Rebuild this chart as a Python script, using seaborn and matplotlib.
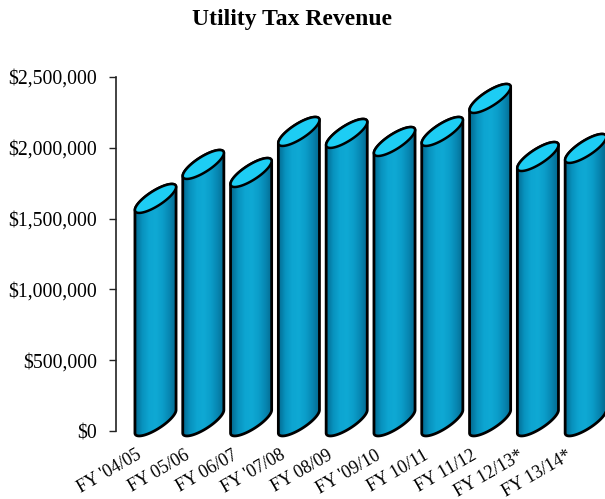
import numpy as np
import pandas as pd
import seaborn as sns
import matplotlib
matplotlib.use("Agg")
import matplotlib.pyplot as plt
from matplotlib.path import Path
from matplotlib.patches import PathPatch
from matplotlib.transforms import ScaledTranslation
from matplotlib.ticker import FuncFormatter
from matplotlib.colors import LinearSegmentedColormap

# ---------------- data ----------------
categories = ["FY '04/05", "FY 05/06", "FY 06/07", "FY '07/08", "FY 08/09",
              "FY '09/10", "FY 10/11", "FY 11/12", "FY 12/13*", "FY 13/14*"]
revenue = [1561000, 1801000, 1744000, 2034000, 2020000,
           1963000, 2034000, 2267000, 1857000, 1914000]
y_ticks = [0, 500000, 1000000, 1500000, 2000000, 2500000]
title = "Utility Tax Revenue"

# ---------------- style ----------------
sns.set_theme(style="white")
plt.rcParams['font.family'] = ['Liberation Serif', 'DejaVu Serif']

W_PX, H_PX, DPI = 605, 499, 100
fig = plt.figure(figsize=(W_PX / DPI, H_PX / DPI), dpi=DPI)
ax_left, ax_right, zero_px, top_px = 116, 605, 431, 77
extra_bottom = 8  # px below zero so cylinder bottoms are not clipped
ax = fig.add_axes([ax_left / W_PX, (H_PX - zero_px - extra_bottom) / H_PX,
                   (ax_right - ax_left) / W_PX, (zero_px + extra_bottom - top_px) / H_PX])

df = pd.DataFrame({"year": categories, "revenue": revenue})
sns.barplot(data=df, x="year", y="revenue", color="#0AA0CC", width=0.86,
            saturation=1, ax=ax)

step_px = 47.8
first_center_px = 155.5
xlim_left = -(first_center_px - ax_left) / step_px
xlim_right = xlim_left + (ax_right - ax_left) / step_px
ymax = 2500000
sy = ymax / (zero_px - top_px)          # data units per px (y)
sx = 1.0 / step_px                       # data units per px (x)
ylim_bottom = -extra_bottom * sy

cmap = LinearSegmentedColormap.from_list(
    "cyl", ["#036A90", "#0892BE", "#0DA5D1", "#0FA9D4", "#0B9DC9", "#0786B1", "#04688D"])

D_PX = 23.0   # vertical rise of the ellipse from left to right
B_PX = 7.5    # minor semi-axis of ellipse

for p in list(ax.patches):
    x0, w, h = p.get_x(), p.get_width(), p.get_height()
    p.set_visible(False)
    Xh = w / sx / 2.0
    Yoff = D_PX / 2.0
    b = B_PX
    th = np.arctan(Xh * Yoff / (Xh ** 2 - b ** 2))
    a = np.sqrt((Xh ** 2 - b ** 2 * np.sin(th) ** 2) / np.cos(th) ** 2)
    tR = np.arctan(-b * np.tan(th) / a)

    def ell(t, cx, cy):
        ex = a * np.cos(t) * np.cos(th) - b * np.sin(t) * np.sin(th)
        ey = a * np.cos(t) * np.sin(th) + b * np.sin(t) * np.cos(th)
        return np.column_stack([cx + ex * sx, cy + ey * sy])

    cx = x0 + w / 2.0
    cy_top = h + Yoff * sy
    cy_bot = (Yoff - 2.0) * sy

    upper_top = ell(np.linspace(tR + np.pi, tR, 80), cx, cy_top)
    lower_bot = ell(np.linspace(tR + 2 * np.pi, tR + np.pi, 80), cx, cy_bot)
    body = np.vstack([upper_top, lower_bot, upper_top[:1]])
    body_path = Path(body, closed=True)

    outline = PathPatch(body_path, fc="none", ec="black", lw=2.0, zorder=4, clip_on=False)
    ax.add_patch(outline)
    clipper = PathPatch(body_path, fc="none", ec="none", transform=ax.transData)
    ax.add_patch(clipper)
    grad = np.linspace(0, 1, 64).reshape(1, -1)
    im = ax.imshow(grad, cmap=cmap, aspect="auto", origin="lower",
                   extent=[x0, x0 + w, body[:, 1].min(), body[:, 1].max()],
                   zorder=3, interpolation="bilinear")
    im.set_clip_path(clipper)

    top = ell(np.linspace(0, 2 * np.pi, 120), cx, cy_top)
    ax.add_patch(PathPatch(Path(top, closed=True), fc="#1DCDF4", ec="black",
                           lw=1.8, zorder=5, clip_on=False))

ax.set_aspect("auto")
ax.set_xlim(xlim_left, xlim_right)
ax.set_ylim(ylim_bottom, ymax)

# axes styling
for s in ["top", "right", "bottom"]:
    ax.spines[s].set_visible(False)
ax.spines["left"].set_color("#222222")
ax.spines["left"].set_linewidth(1.2)
ax.spines["left"].set_bounds(0, ymax)
ax.set_xlabel("")
ax.set_ylabel("")
ax.grid(False)

ax.set_yticks(y_ticks)
ax.yaxis.set_major_formatter(FuncFormatter(lambda v, pos: "${:,.0f}".format(v)))
ax.tick_params(axis="y", left=True, direction="out", length=5, width=1,
               color="#222222", pad=8.6, labelsize=14.2, labelcolor="black")

ax.set_xticks(range(len(categories)))
ax.set_xticklabels(categories, rotation=30, ha="right", va="baseline",
                   rotation_mode="anchor", fontsize=13)
ax.tick_params(axis="x", bottom=False, length=0, pad=0, labelcolor="black")
offset = ScaledTranslation(-13 / DPI, -19 / DPI, fig.dpi_scale_trans)
for lab in ax.get_xticklabels():
    lab.set_transform(lab.get_transform() + offset)

fig.text(292 / W_PX, 1 - 19 / H_PX, title, ha="center", va="center",
         fontsize=17, fontweight="bold", color="black")

fig.savefig("out.png", dpi=DPI)
